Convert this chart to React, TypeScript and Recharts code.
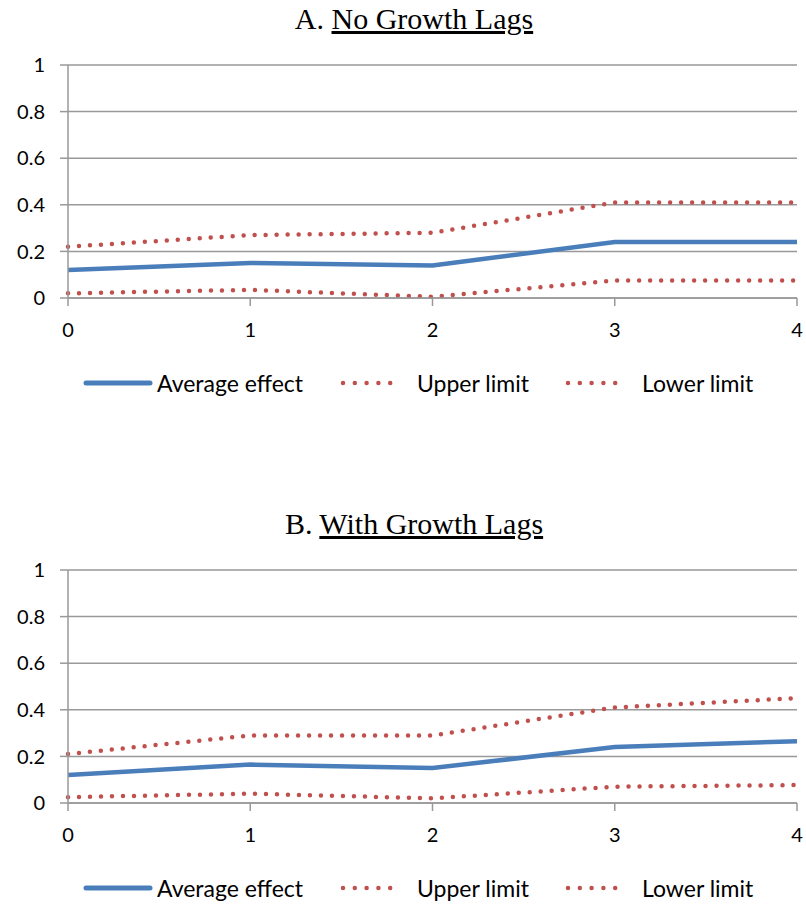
import React from "react";
import { LineChart, Line, XAxis, YAxis, CartesianGrid, Legend } from "recharts";

const lags = [0, 1, 2, 3, 4];
const yTicks = [0, 0.2, 0.4, 0.6, 0.8, 1];

// Panel A: no growth lags
const avgA = [0.12, 0.15, 0.14, 0.24, 0.24];
const upperA = [0.22, 0.27, 0.28, 0.41, 0.41];
const lowerA = [0.02, 0.035, 0.005, 0.075, 0.075];

// Panel B: with growth lags
const avgB = [0.12, 0.165, 0.15, 0.24, 0.265];
const upperB = [0.21, 0.29, 0.29, 0.41, 0.45];
const lowerB = [0.025, 0.04, 0.02, 0.07, 0.077];

const BLUE = "#4A7EBB";
const RED = "#C0504D";
const GRID = "#999999";
const FONT = "Lato, 'Open Sans', sans-serif";

function buildRows(avg: number[], upper: number[], lower: number[]) {
  return lags.map((lag, i) => ({ lag, avg: avg[i], upper: upper[i], lower: lower[i] }));
}

function LegendContent() {
  const label = (text: string, left: number) => (
    <span style={{ position: "absolute", left, top: 0, fontSize: 23, lineHeight: "24px", color: "#000", whiteSpace: "nowrap" }}>
      {text}
    </span>
  );
  const dots = (left: number) => (
    <svg width={64} height={10} style={{ position: "absolute", left, top: 7 }}>
      <line x1={3} y1={5} x2={62} y2={5} stroke={RED} strokeWidth={4.5} strokeLinecap="round" strokeDasharray="0 11.8" />
    </svg>
  );
  return (
    <div style={{ position: "relative", width: 806, height: 62, marginTop: 33, fontFamily: FONT }}>
      <svg width={70} height={10} style={{ position: "absolute", left: 83, top: 7 }}>
        <line x1={3} y1={5} x2={67} y2={5} stroke={BLUE} strokeWidth={5} strokeLinecap="round" />
      </svg>
      {label("Average effect", 157)}
      {dots(340)}
      {label("Upper limit", 417)}
      {dots(565)}
      {label("Lower limit", 642)}
    </div>
  );
}

function Panel({ prefix, name, avg, upper, lower, top }: {
  prefix: string; name: string; avg: number[]; upper: number[]; lower: number[]; top: number;
}) {
  const data = buildRows(avg, upper, lower);
  return (
    <div style={{ position: "absolute", left: 0, top, width: 806, height: 400 }}>
      <div style={{
        position: "absolute", left: 0, width: 828, top: 4, textAlign: "center",
        fontFamily: "'Liberation Serif', 'Times New Roman', serif", fontSize: 30, lineHeight: "30px", zIndex: 2,
      }}>
        {prefix} <u>{name}</u>
      </div>
      <LineChart width={806} height={400} data={data} margin={{ top: 65, right: 9, left: 8, bottom: 0 }}>
        <CartesianGrid horizontal vertical={false} stroke={GRID} strokeWidth={1.5} />
        <XAxis
          dataKey="lag"
          type="number"
          domain={[0, 4]}
          ticks={lags}
          interval={0}
          height={40}
          stroke={GRID}
          strokeWidth={1.5}
          tickSize={8}
          tickMargin={17}
          tick={{ fill: "#000", fontSize: 20, fontFamily: FONT }}
        />
        <YAxis
          type="number"
          domain={[0, 1]}
          ticks={yTicks}
          width={60}
          stroke={GRID}
          strokeWidth={1.5}
          tickSize={8}
          tickMargin={15}
          tick={{ fill: "#000", fontSize: 20, fontFamily: FONT }}
        />
        <Legend verticalAlign="bottom" content={<LegendContent />} wrapperStyle={{ left: 0, width: 806, bottom: 0, height: 62 }} />
        <Line dataKey="avg" name="Average effect" stroke={BLUE} strokeWidth={4.5} dot={false} activeDot={false} isAnimationActive={false} />
        <Line dataKey="upper" name="Upper limit" stroke={RED} strokeWidth={4.5} strokeLinecap="round" strokeDasharray="0 11" dot={false} activeDot={false} isAnimationActive={false} />
        <Line dataKey="lower" name="Lower limit" stroke={RED} strokeWidth={4.5} strokeLinecap="round" strokeDasharray="0 11" dot={false} activeDot={false} isAnimationActive={false} />
      </LineChart>
    </div>
  );
}

export default function App() {
  return (
    <div style={{ position: "relative", width: 806, height: 906, overflow: "hidden", background: "#fff" }}>
      <style>{"html, body { margin: 0; padding: 0; overflow: hidden; } .recharts-surface { overflow: visible; }"}</style>
      <Panel prefix="A." name="No Growth Lags" avg={avgA} upper={upperA} lower={lowerA} top={0} />
      <Panel prefix="B." name="With Growth Lags" avg={avgB} upper={upperB} lower={lowerB} top={505} />
    </div>
  );
}
